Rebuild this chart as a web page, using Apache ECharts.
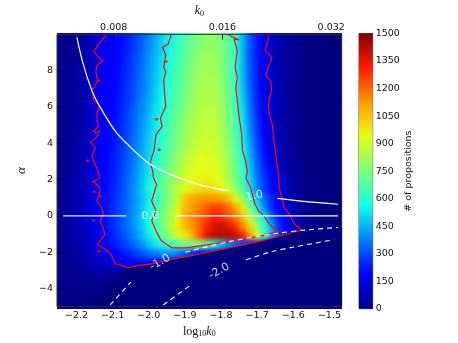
<!DOCTYPE html>
<html>
<head>
<meta charset="utf-8">
<script src="https://cdn.jsdelivr.net/npm/echarts@6/dist/echarts.min.js"></script>
<style>
  html, body { margin: 0; padding: 0; background: #fff; }
  #page { position: relative; width: 458px; height: 343px; overflow: hidden; }
  #clip { position: absolute; left: 57px; top: 33px; width: 285px; height: 276px; overflow: hidden; background: #00007f; }
  #heat { position: absolute; left: -57px; top: -33px; width: 458px; height: 343px; filter: blur(2.5px); }
  #main { position: absolute; left: 0; top: 0; width: 458px; height: 343px; }
</style>
</head>
<body>
<div id="page">
  <div id="clip"><div id="heat"></div></div>
  <div id="main"></div>
</div>
<script>
// tick labels
const xTicks = [-2.2, -2.1, -2.0, -1.9, -1.8, -1.7, -1.6, -1.5];
const yTicks = [-4, -2, 0, 2, 4, 6, 8];
const k0Ticks = [-2.097, -1.796, -1.495];
const k0Labels = ['0.008', '0.016', '0.032'];

// jet colours, 0 to 1500
const jet = ['#00007f', '#0000ff', '#007fff', '#15ffe6', '#7bff7b', '#e6ff15', '#ff9900', '#ff1c00', '#7f0000'];

// histogram columns (log10 k0) and rows (alpha)
const logK = [-2.26, -2.24, -2.22, -2.20, -2.18, -2.16, -2.14, -2.12, -2.10, -2.08, -2.06, -2.04, -2.02, -2.00, -1.98, -1.96, -1.94, -1.92, -1.90, -1.88, -1.86, -1.84, -1.82, -1.80, -1.78, -1.76, -1.74, -1.72, -1.70, -1.68, -1.66, -1.64, -1.62, -1.60, -1.58, -1.56, -1.54, -1.52, -1.50, -1.48, -1.46];
const alphas = [10, 9.5, 9, 8.5, 8, 7.5, 7, 6.5, 6, 5.5, 5, 4.5, 4, 3.5, 3, 2.5, 2, 1.5, 1, 0.5, 0, -0.5, -1, -1.5, -2, -2.5, -3, -3.5, -4, -4.5, -5];
const counts = [
  [8,12,20,32,50,85,135,160,175,195,225,265,315,370,430,490,550,610,660,705,745,775,775,750,690,590,450,310,215,155,108,72,48,30,18,11,6,4,2,1,0],
  [8,14,22,34,52,88,138,162,178,198,230,272,325,385,445,505,565,620,670,720,760,790,790,760,695,600,455,315,218,156,110,74,48,30,18,11,6,4,2,1,0],
  [9,14,22,36,55,90,140,165,180,200,235,280,335,395,455,515,575,630,685,735,775,800,795,765,700,605,455,312,215,155,108,72,47,30,18,11,6,4,2,1,0],
  [10,15,24,38,58,94,145,168,182,205,240,290,345,405,465,525,590,645,700,750,790,815,810,775,705,610,460,315,216,155,108,72,47,30,18,11,6,4,2,1,0],
  [10,15,25,40,60,95,148,170,185,208,248,298,352,415,475,540,600,660,710,760,800,820,810,775,705,605,455,320,220,158,110,75,48,30,18,11,6,4,2,1,0],
  [10,15,26,42,62,98,150,170,188,212,252,302,358,420,480,545,610,670,720,770,810,830,825,790,715,615,465,325,222,158,110,75,48,30,18,11,6,4,2,1,0],
  [10,16,26,42,64,100,150,172,190,215,258,308,362,425,490,550,615,675,730,780,820,835,830,795,720,625,475,330,225,160,112,76,48,30,18,11,6,4,2,1,0],
  [11,17,28,44,66,100,152,175,192,220,265,315,372,435,500,560,625,685,740,790,830,850,840,805,730,635,490,340,232,162,112,76,50,30,18,11,6,4,2,1,0],
  [11,18,28,46,68,102,152,175,195,228,272,328,388,450,515,575,640,700,755,805,845,860,850,815,740,640,505,355,240,165,115,78,50,30,18,11,6,4,2,1,0],
  [12,18,30,48,70,105,155,178,198,235,280,338,398,460,525,590,655,715,770,820,855,865,860,825,750,650,520,370,250,170,118,78,50,30,18,11,6,4,2,1,0],
  [12,20,32,50,74,108,155,180,202,240,288,345,408,470,535,600,665,730,785,830,865,875,870,835,760,660,535,385,262,175,120,80,50,30,18,11,6,4,2,1,0],
  [13,21,34,52,76,110,155,180,208,245,295,352,415,480,545,610,680,745,800,845,875,885,880,845,770,670,550,400,275,180,125,82,52,30,18,11,6,4,2,1,0],
  [13,22,35,54,80,115,158,182,212,250,300,360,425,490,555,625,695,760,815,860,890,900,890,855,780,685,565,420,290,190,130,85,52,32,18,11,6,4,2,1,0],
  [14,22,36,56,82,118,158,185,218,258,308,368,435,500,570,640,715,780,835,880,905,915,905,870,795,700,585,440,310,205,140,90,55,32,18,11,6,4,2,1,0],
  [14,24,38,58,85,120,160,188,222,262,315,375,445,515,585,660,735,805,860,900,925,935,920,885,810,715,605,465,330,225,150,95,55,32,18,11,6,4,2,1,0],
  [15,24,40,60,88,122,160,190,225,268,322,385,458,530,605,680,755,825,880,920,945,950,935,895,825,730,625,485,350,245,165,102,60,34,18,11,6,4,2,1,0],
  [16,26,42,62,90,124,160,192,230,275,330,395,468,545,620,695,770,840,895,935,960,965,950,910,840,745,640,500,370,265,190,140,95,55,26,13,7,4,2,1,0],
  [16,27,44,64,92,126,160,195,235,280,335,400,475,555,630,705,785,860,925,975,1000,1010,1000,965,900,800,680,530,385,275,200,150,100,58,26,13,7,4,2,1,0],
  [18,28,45,66,95,128,162,200,240,285,340,400,465,540,620,700,780,880,1040,1100,1120,1130,1130,1120,1060,960,800,620,480,340,240,165,110,70,30,14,7,4,2,1,0],
  [18,30,46,68,98,130,165,205,245,290,345,405,475,555,640,725,810,920,1060,1120,1170,1220,1260,1260,1190,1100,980,760,550,370,250,180,130,75,36,16,8,4,2,1,0],
  [18,30,46,70,100,132,168,208,250,295,350,415,485,560,650,740,830,950,1090,1150,1200,1250,1310,1300,1240,1160,1060,880,700,530,340,220,165,90,45,20,9,4,2,1,0],
  [18,28,44,68,98,130,165,205,250,295,350,410,480,560,650,745,850,960,1060,1120,1200,1300,1370,1400,1360,1280,1160,1000,800,600,430,250,170,120,55,24,10,5,2,1,0],
  [16,26,42,64,92,122,155,195,238,280,330,385,455,530,620,710,810,900,980,1080,1220,1360,1400,1420,1420,1390,1300,1130,900,640,430,290,180,110,60,25,10,5,2,1,0],
  [14,24,38,58,84,112,142,175,212,250,295,345,405,470,530,580,630,680,720,740,730,680,580,480,400,330,280,240,180,130,80,40,20,10,5,3,2,1,0,0,0],
  [12,20,32,50,72,96,122,148,172,200,232,268,305,345,380,400,400,370,320,260,200,150,110,70,40,20,10,5,2,1,0,0,0,0,0,0,0,0,0,0,0],
  [10,18,28,42,60,80,100,122,140,160,178,190,200,195,170,130,90,50,25,10,0,0,0,0,0,0,0,0,0,0,0,0,0,0,0,0,0,0,0,0,0],
  [8,14,22,30,38,44,48,48,44,36,25,15,8,0,0,0,0,0,0,0,0,0,0,0,0,0,0,0,0,0,0,0,0,0,0,0,0,0,0,0,0],
  [6,10,16,22,26,28,28,24,18,10,4,0,0,0,0,0,0,0,0,0,0,0,0,0,0,0,0,0,0,0,0,0,0,0,0,0,0,0,0,0,0],
  [5,8,12,16,18,18,16,12,6,2,0,0,0,0,0,0,0,0,0,0,0,0,0,0,0,0,0,0,0,0,0,0,0,0,0,0,0,0,0,0,0],
  [4,6,10,12,12,10,6,2,0,0,0,0,0,0,0,0,0,0,0,0,0,0,0,0,0,0,0,0,0,0,0,0,0,0,0,0,0,0,0,0,0],
  [3,5,8,8,8,6,2,0,0,0,0,0,0,0,0,0,0,0,0,0,0,0,0,0,0,0,0,0,0,0,0,0,0,0,0,0,0,0,0,0,0]
];

// lower edge of the sampled region
const cutK = [-2.18, -2.056, -1.978, -1.858, -1.778, -1.685, -1.576, -1.44];
const cutAlpha = [-5, -2.85, -2.6, -2.09, -1.76, -1.36, -0.78, -0.58];

// red contours
const outerK = [-2.118,-2.135,-2.152,-2.135,-2.126,-2.144,-2.146,-2.142,-2.151,-2.158,-2.152,-2.137,-2.144,-2.139,-2.153,-2.138,-2.161,-2.147,-2.158,-2.144,-2.135,-2.153,-2.135,-2.137,-2.144,-2.130,-2.126,-2.135,-2.121,-2.142,-2.116,-2.103,-2.093,-2.056,-2.024,-1.978,-1.950,-1.858,-1.778,-1.685,-1.576,-1.598,-1.611,-1.625,-1.639,-1.642,-1.653,-1.658,-1.667,-1.669,-1.660,-1.662,-1.676,-1.659,-1.678,-1.667];
const outerAlpha = [9.96,9.56,9.07,8.65,8.56,8.29,7.93,7.47,7.07,6.96,6.38,6.11,5.56,4.93,4.65,4.47,4.05,3.75,3.29,2.65,2.09,1.91,1.55,1.18,0.82,0.45,0.09,-0.27,-1.0,-1.58,-1.91,-2.18,-2.64,-2.85,-2.73,-2.6,-2.45,-2.09,-1.76,-1.36,-0.78,-0.42,0.09,0.45,1.55,2.45,4.02,5.02,5.65,6.2,6.93,7.38,7.75,8.75,9.11,9.93];
const innerK = [-1.938,-1.946,-1.962,-1.953,-1.959,-1.953,-1.959,-1.953,-1.968,-1.963,-1.980,-1.985,-1.996,-1.989,-1.987,-1.978,-1.992,-1.980,-1.992,-1.978,-1.966,-1.936,-1.895,-1.778,-1.685,-1.641,-1.667,-1.681,-1.695,-1.706,-1.718,-1.731,-1.727,-1.731,-1.741,-1.743,-1.750,-1.755,-1.759,-1.755,-1.761,-1.755,-1.764,-1.750,-1.778];
const innerAlpha = [9.96,9.47,9.29,8.84,8.2,7.93,7.47,6.02,5.38,4.93,4.47,3.65,2.93,2.45,2.09,1.73,0.82,0.27,-0.27,-0.91,-1.36,-1.76,-1.76,-1.42,-1.09,-0.87,-0.45,0,0.24,0.64,1.55,2.09,2.45,2.93,3.65,4.56,5.44,6.38,7.02,7.65,8.2,9.11,9.75,9.69,9.96];
const islandK = [-2.169,-2.138,-2.138,-2.152,-2.151,-2.134,-2.153,-2.138,-1.952,-1.971,-1.978];
const islandAlpha = [3.04,4.65,7.44,1.9,1.33,1.09,-0.24,-1.95,8.51,3.65,5.33];

// white contours
const line1aK = [-2.199,-2.182,-2.158,-2.138,-2.089,-2.024,-1.996,-1.960,-1.941,-1.866,-1.822,-1.780];
const line1aAlpha = [9.84,8.40,6.93,6.11,4.57,3.29,2.84,2.46,2.29,1.75,1.54,1.39];
const line1bK = [-1.644,-1.565,-1.476];
const line1bAlpha = [0.96,0.78,0.64];
const line0aK = [-2.237,-2.063];
const line0bK = [-1.927,-1.476];
const lineM1aK = [-2.107,-2.049];
const lineM1aAlpha = [-4.91,-3.64];
const lineM1bK = [-1.899,-1.778,-1.645,-1.565,-1.476];
const lineM1bAlpha = [-2.0,-1.42,-0.96,-0.78,-0.64];
const lineM2aK = [-1.96,-1.888];
const lineM2aAlpha = [-4.91,-3.87];
const lineM2bK = [-1.731,-1.658,-1.602,-1.487];
const lineM2bAlpha = [-2.42,-1.96,-1.73,-1.31];

const labelK = [-1.996, -1.708, -1.969, -1.805];
const labelAlpha = [0, 1.09, -2.56, -3.05];
const labelText = ['0.0', '1.0', '-1.0', '-2.0'];
const labelRotate = [0, 10, 30, 30];

const xMin = -2.254, xMax = -1.466;
const gridBox = { left: 57, top: 33.5, width: 284.7, height: 275.2 };
const tickFont = { fontFamily: 'DejaVu Sans', fontSize: 9.5, color: '#111' };

function zip(a, b) {
  return a.map((v, i) => [v, b[i]]);
}
function minusSign(v) {
  return v.toFixed(1).replace('-', '\u2212');
}

// heat layer, blurred because the original image is smoothed
let cells = [];
alphas.forEach((a, r) => {
  logK.forEach((k, c) => {
    cells.push([k, a, counts[r][c]]);
  });
});

const heat = echarts.init(document.getElementById('heat'));
heat.setOption({
  animation: false,
  grid: gridBox,
  xAxis: { type: 'value', min: xMin, max: xMax, show: false },
  yAxis: { type: 'value', min: -5, max: 10, show: false },
  visualMap: { show: false, min: 0, max: 1500, dimension: 2, seriesIndex: 0, inRange: { color: jet } },
  series: [{
    type: 'custom',
    data: cells,
    encode: { x: 0, y: 1 },
    renderItem: function (params, api) {
      const p0 = api.coord([api.value(0) - 0.01, api.value(1) + 0.25]);
      const p1 = api.coord([api.value(0) + 0.01, api.value(1) - 0.25]);
      // outer cells run on past the frame so the blur does not fade there
      const padL = api.value(0) === logK[0] ? 14 : 0;
      const padR = api.value(0) === logK[logK.length - 1] ? 14 : 0;
      const padT = api.value(1) === alphas[0] ? 14 : 0;
      const padB = api.value(1) === alphas[alphas.length - 1] ? 14 : 0;
      return {
        type: 'rect',
        shape: {
          x: p0[0] - padL,
          y: p0[1] - padT,
          width: p1[0] - p0[0] + 0.6 + padL + padR,
          height: p1[1] - p0[1] + 0.6 + padT + padB
        },
        style: { fill: api.visual('color') }
      };
    }
  }]
});

function lineSeries(data, color, width, dashed, smooth) {
  return {
    type: 'line',
    data: data,
    showSymbol: false,
    silent: true,
    smooth: smooth ? 0.3 : false,
    lineStyle: { color: color, width: width, type: dashed ? [5, 4] : 'solid' },
    z: 4
  };
}

const barStops = jet.map((c, i) => ({ offset: i / (jet.length - 1), color: c }));
const main = echarts.init(document.getElementById('main'));
main.setOption({
  animation: false,
  grid: [
    Object.assign({ show: true, borderColor: '#333', borderWidth: 1, backgroundColor: 'transparent' }, gridBox),
    { show: true, borderColor: '#555', borderWidth: 1, backgroundColor: 'transparent', left: 359, top: 33.5, width: 13.7, height: 275.2 }
  ],
  xAxis: [
    {
      type: 'value', gridIndex: 0, min: xMin, max: xMax, position: 'bottom',
      splitLine: { show: false }, axisLine: { show: false, onZero: false },
      axisTick: { inside: true, length: 4, lineStyle: { color: '#000' }, customValues: xTicks },
      axisLabel: Object.assign({ margin: 4, customValues: xTicks, formatter: minusSign }, tickFont),
      name: '{t|log}{s|10}{i|k}{s|0}', nameLocation: 'middle', nameGap: 13,
      nameTextStyle: {
        rich: {
          t: { fontFamily: 'Liberation Serif', fontSize: 12, color: '#111' },
          i: { fontFamily: 'Liberation Serif', fontStyle: 'italic', fontSize: 12, color: '#111' },
          s: { fontFamily: 'Liberation Serif', fontSize: 8, color: '#111', padding: [5, 0, 0, 0] }
        }
      }
    },
    {
      type: 'value', gridIndex: 0, min: xMin, max: xMax, position: 'top',
      splitLine: { show: false }, axisLine: { show: false, onZero: false },
      axisTick: { inside: true, length: 5, lineStyle: { color: '#000' }, customValues: k0Ticks },
      axisLabel: Object.assign({
        margin: 2, customValues: k0Ticks,
        formatter: function (v) { return k0Labels[k0Ticks.indexOf(v)]; }
      }, tickFont),
      name: '{i|k}{s|0}', nameLocation: 'middle', nameGap: 7,
      nameTextStyle: {
        rich: {
          i: { fontFamily: 'Liberation Serif', fontStyle: 'italic', fontSize: 12, color: '#111' },
          s: { fontFamily: 'Liberation Serif', fontSize: 8, color: '#111', padding: [5, 0, 0, 0] }
        }
      }
    },
    { type: 'value', gridIndex: 1, min: 0, max: 1, show: false }
  ],
  yAxis: [
    {
      type: 'value', gridIndex: 0, min: -5, max: 10,
      splitLine: { show: false }, axisLine: { show: false, onZero: false },
      axisTick: { inside: true, length: 4, lineStyle: { color: '#000' }, customValues: yTicks },
      axisLabel: Object.assign({ margin: 4, customValues: yTicks, formatter: function (v) { return String(v).replace('-', '\u2212'); } }, tickFont),
      name: '\u03b1', nameLocation: 'middle', nameGap: 10, nameRotate: 90,
      nameTextStyle: { fontFamily: 'Liberation Serif', fontStyle: 'italic', fontSize: 13, color: '#111' }
    },
    {
      type: 'value', gridIndex: 1, min: 0, max: 1500, interval: 150, position: 'right',
      splitLine: { show: false }, axisLine: { show: false, onZero: false },
      axisTick: { inside: true, length: 3, lineStyle: { color: '#333' } },
      axisLabel: Object.assign({ margin: 3, formatter: function (v) { return String(v); } }, tickFont),
      name: '# of propositions', nameLocation: 'middle', nameGap: 30, nameRotate: 90,
      nameTextStyle: Object.assign({}, tickFont)
    }
  ],
  series: [
    // everything under the lower edge stays at zero
    {
      type: 'custom',
      xAxisIndex: 0, yAxisIndex: 0,
      clip: true,
      silent: true,
      data: zip(cutK, cutAlpha),
      encode: { x: 0, y: 1 },
      z: 1,
      renderItem: function (params, api) {
        if (params.dataIndex !== 0) return null;
        let pts = cutK.map((k, i) => api.coord([k, cutAlpha[i]]));
        pts.push(api.coord([cutK[cutK.length - 1], -5]));
        return { type: 'polygon', shape: { points: pts }, style: { fill: jet[0] } };
      }
    },
    // colour bar
    {
      type: 'custom',
      xAxisIndex: 2, yAxisIndex: 1,
      silent: true,
      data: [[0, 0]],
      encode: { x: 0, y: 1 },
      z: 1,
      renderItem: function (params, api) {
        const p0 = api.coord([0, 1500]);
        const p1 = api.coord([1, 0]);
        return {
          type: 'rect',
          shape: { x: p0[0], y: p0[1], width: p1[0] - p0[0], height: p1[1] - p0[1] },
          style: { fill: new echarts.graphic.LinearGradient(0, 1, 0, 0, barStops) }
        };
      }
    },
    lineSeries(zip(outerK, outerAlpha), '#e8101c', 1.2),
    lineSeries(zip(innerK, innerAlpha), '#e8101c', 1.2),
    {
      type: 'scatter',
      data: zip(islandK, islandAlpha),
      symbolSize: 3,
      silent: true,
      itemStyle: { color: '#e8101c' },
      z: 4
    },
    lineSeries(zip(line1aK, line1aAlpha), '#fff', 1.2, false, true),
    lineSeries(zip(line1bK, line1bAlpha), '#fff', 1.2, false, true),
    lineSeries(zip(line0aK, [0, 0]), '#e8e8ff', 1.2),
    lineSeries(zip(line0bK, [0, 0]), '#fff', 1.2),
    lineSeries(zip(lineM1aK, lineM1aAlpha), '#fff', 1.1, true),
    lineSeries(zip(lineM1bK, lineM1bAlpha), '#fff', 1.1, true, true),
    lineSeries(zip(lineM2aK, lineM2aAlpha), '#fff', 1.1, true),
    lineSeries(zip(lineM2bK, lineM2bAlpha), '#fff', 1.1, true, true),
    {
      type: 'scatter',
      symbolSize: 1,
      silent: true,
      itemStyle: { color: 'transparent' },
      z: 5,
      data: labelK.map((k, i) => ({
        value: [k, labelAlpha[i]],
        label: {
          show: true, position: 'inside', formatter: labelText[i], rotate: labelRotate[i],
          color: '#fff', fontFamily: 'DejaVu Sans', fontSize: 11
        }
      }))
    }
  ]
});
</script>
</body>
</html>
